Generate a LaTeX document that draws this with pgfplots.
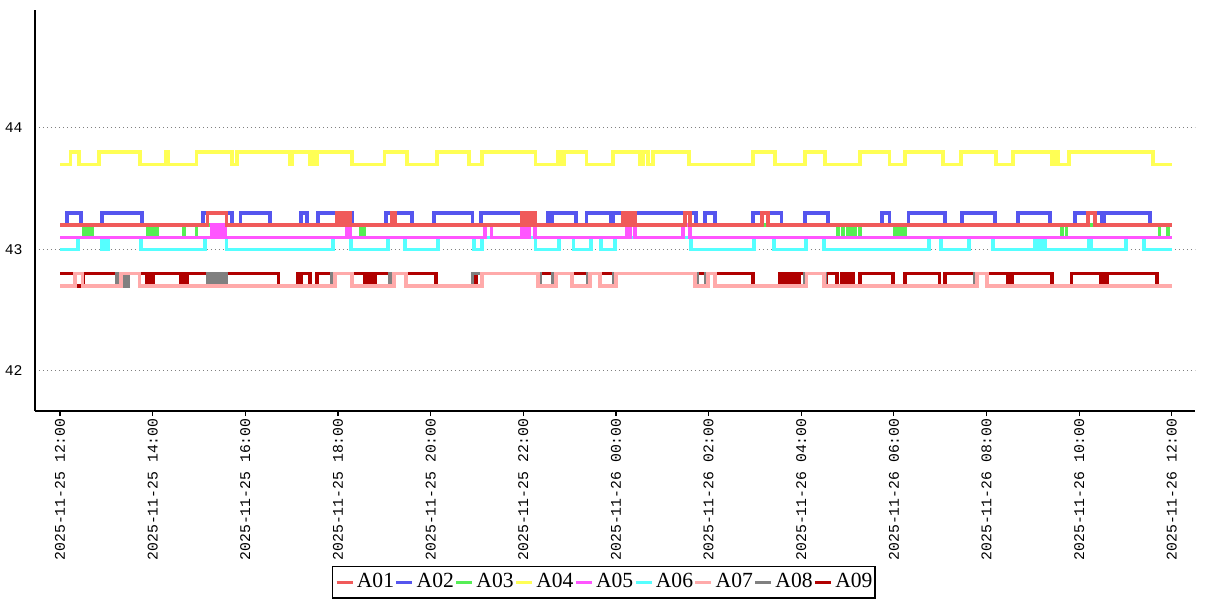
\documentclass[border=0pt]{standalone}
\usepackage{fontspec}
\setmainfont{Liberation Serif}
\newfontfamily\monofont{Liberation Mono}
\usepackage{pgfplots}
\pgfplotsset{compat=1.18}
\definecolor{cA01}{HTML}{F05A5A}
\definecolor{cA02}{HTML}{5555EE}
\definecolor{cA03}{HTML}{55EE55}
\definecolor{cA04}{HTML}{FFFF55}
\definecolor{cA05}{HTML}{FF55FF}
\definecolor{cA06}{HTML}{55FFFF}
\definecolor{cA07}{HTML}{FFAAAA}
\definecolor{cA08}{HTML}{808080}
\definecolor{cA09}{HTML}{B00000}
\begin{document}
\begin{tikzpicture}
\begin{axis}[
  scale only axis, width=580pt, height=200.5pt,
  xmin=-0.54, xmax=24.5, ymin=41.67, ymax=44.97,
  axis lines*=left,
  axis line style={line width=0.9pt, black},
  xtick={0,2,...,24},
  xticklabels={2025-11-25 12:00,2025-11-25 14:00,2025-11-25 16:00,2025-11-25 18:00,2025-11-25 20:00,2025-11-25 22:00,2025-11-26 00:00,2025-11-26 02:00,2025-11-26 04:00,2025-11-26 06:00,2025-11-26 08:00,2025-11-26 10:00,2025-11-26 12:00},
  x tick label style={rotate=90, anchor=east, font=\monofont\fontsize{7.4}{8}\selectfont, inner sep=1pt},
  ytick={42,43,44}, yticklabels={42,43,44},
  y tick label style={font=\monofont\fontsize{7.4}{8}\selectfont, inner sep=1pt, xshift=-2.5pt},
  tick align=outside, major tick length=2.5pt,
  xtick style={black, line width=0.6pt},
  ytick style={draw=none},
  ymajorgrids,
  major grid style={gray, line width=0.5pt, dash pattern=on 0.6pt off 1.4pt},
  every axis plot/.append style={const plot, line width=1.7pt},
  legend columns=9,
  legend image code/.code={\draw[#1] (0pt,0pt) -- (8pt,0pt);},
  legend style={at={(0.4905,-0.3865)}, anchor=north, draw=black, line width=0.6pt,
    font=\fontsize{10.8}{12}\selectfont, inner xsep=1pt, inner ysep=2pt,
    nodes={inner xsep=0.3pt, inner ysep=1.5pt},
    /tikz/every even column/.append style={column sep=0pt},
    /tikz/every odd column/.append style={column sep=1pt}},
]
\coordinate (O) at (rel axis cs:0,0);
% A09
\addplot[cA09, forget plot] coordinates {(0,42.8) (0.32,42.7) (0.50,42.8) (1.88,42.7) (1.92,42.8) (1.96,42.7) (2.01,42.8) (2.61,42.7) (2.66,42.8) (2.70,42.7) (2.74,42.8) (3.19,42.7) (3.60,42.8) (4.71,42.7) (5.12,42.8) (5.16,42.7) (5.20,42.8) (5.40,42.7) (5.55,42.8) (6.58,42.7) (6.63,42.8) (6.67,42.7) (6.71,42.8) (6.76,42.7) (6.80,42.8) (8.12,42.7) (8.98,42.8) (14.96,42.7) (15.54,42.8) (15.63,42.7) (15.67,42.8) (15.76,42.7) (15.80,42.8) (15.89,42.7) (15.95,42.8) (16.51,42.7) (16.55,42.8) (16.77,42.7) (16.88,42.8) (16.94,42.7) (16.99,42.8) (17.03,42.7) (17.07,42.8) (17.12,42.7) (17.27,42.8) (17.98,42.7) (18.24,42.8) (18.99,42.7) (19.10,42.8) (20.46,42.7) (20.55,42.8) (21.41,42.7) (21.84,42.8) (22.47,42.7) (22.51,42.8) (22.55,42.7) (22.60,42.8) (23.68,42.7) (24,42.7)};
% A08
\addplot[cA08, forget plot] coordinates {(0,42.7) (0.32,42.8) (0.48,42.7) (1.23,42.8) (1.27,42.7) (1.32,42.8) (1.36,42.7) (1.40,42.8) (1.45,42.7) (1.47,42.8) (1.71,42.7) (3.19,42.8) (3.26,42.7) (3.30,42.8) (3.37,42.7) (3.41,42.8) (3.48,42.7) (3.52,42.8) (3.60,42.7) (5.87,42.8) (6.30,42.7) (7.12,42.8) (7.47,42.7) (8.91,42.8) (10.36,42.7) (10.64,42.8) (11.05,42.7) (11.40,42.8) (11.66,42.7) (11.96,42.8) (13.75,42.7) (13.94,42.8) (14.14,42.7) (16.08,42.8) (16.53,42.7) (19.75,42.8) (20.01,42.7) (24,42.7)};
% A07
\addplot[cA07, forget plot] coordinates {(0,42.7) (0.32,42.8) (0.48,42.7) (1.32,42.8) (1.71,42.7) (5.94,42.8) (6.30,42.7) (7.21,42.8) (7.47,42.7) (9.11,42.8) (10.32,42.7) (10.71,42.8) (11.05,42.7) (11.44,42.8) (11.66,42.7) (12.00,42.8) (13.71,42.7) (13.99,42.8) (14.14,42.7) (16.12,42.8) (16.49,42.7) (19.79,42.8) (20.01,42.7) (24,42.7)};
% A06
\addplot[cA06, forget plot] coordinates {(0,43.0) (0.39,43.1) (0.89,43.0) (0.95,43.1) (0.99,43.0) (1.04,43.1) (1.75,43.0) (3.13,43.1) (3.60,43.0) (5.89,43.1) (6.28,43.0) (7.08,43.1) (7.45,43.0) (8.16,43.1) (8.94,43.0) (9.11,43.1) (10.27,43.0) (10.77,43.1) (11.09,43.0) (11.46,43.1) (11.68,43.0) (11.98,43.1) (13.62,43.0) (14.98,43.1) (15.41,43.0) (16.10,43.1) (16.49,43.0) (18.76,43.1) (19.02,43.0) (19.62,43.1) (20.14,43.0) (21.04,43.1) (21.09,43.0) (21.13,43.1) (21.17,43.0) (21.22,43.1) (21.26,43.0) (22.21,43.1) (22.27,43.0) (23.01,43.1) (23.40,43.0) (24,43.0)};
% A03
\addplot[cA03, forget plot] coordinates {(0,43.2) (0.52,43.1) (0.58,43.2) (0.63,43.1) (0.69,43.2) (1.90,43.1) (1.94,43.2) (1.99,43.1) (2.03,43.2) (2.05,43.1) (2.09,43.2) (2.68,43.1) (2.94,43.2) (6.48,43.1) (6.56,43.2) (16.79,43.1) (16.90,43.2) (17.01,43.1) (17.09,43.2) (17.16,43.1) (17.27,43.2) (18.02,43.1) (18.11,43.2) (18.15,43.1) (18.24,43.2) (21.63,43.1) (21.73,43.2) (23.74,43.1) (23.92,43.2) (24,43.2)};
% A05
\addplot[cA05, forget plot] coordinates {(0,43.1) (3.28,43.2) (3.32,43.1) (3.39,43.2) (3.43,43.1) (3.50,43.2) (3.56,43.1) (6.19,43.2) (6.26,43.1) (9.17,43.2) (9.32,43.1) (9.97,43.2) (10.06,43.1) (10.14,43.2) (10.25,43.1) (12.24,43.2) (12.28,43.1) (12.32,43.2) (12.41,43.1) (13.45,43.2) (13.60,43.1) (24,43.1)};
% A04
\addplot[cA04, forget plot] coordinates {(0,43.7) (0.22,43.8) (0.41,43.7) (0.84,43.8) (1.73,43.7) (2.29,43.8) (2.33,43.7) (2.94,43.8) (3.71,43.7) (3.82,43.8) (4.96,43.7) (5.01,43.8) (5.40,43.7) (5.44,43.8) (5.48,43.7) (5.55,43.8) (6.30,43.7) (7.01,43.8) (7.49,43.7) (8.14,43.8) (8.83,43.7) (9.11,43.8) (10.27,43.7) (10.75,43.8) (10.81,43.7) (10.88,43.8) (11.37,43.7) (11.94,43.8) (12.52,43.7) (12.60,43.8) (12.69,43.7) (12.80,43.8) (13.58,43.7) (14.96,43.8) (15.43,43.7) (16.08,43.8) (16.51,43.7) (17.27,43.8) (17.91,43.7) (18.24,43.8) (19.06,43.7) (19.45,43.8) (20.20,43.7) (20.57,43.8) (21.41,43.7) (21.48,43.8) (21.54,43.7) (21.78,43.8) (23.59,43.7) (24,43.7)};
% A02
\addplot[cA02, forget plot] coordinates {(0,43.2) (0.15,43.3) (0.45,43.2) (0.91,43.3) (1.77,43.2) (3.09,43.3) (3.71,43.2) (3.89,43.3) (4.53,43.2) (5.20,43.3) (5.33,43.2) (5.57,43.3) (6.32,43.2) (7.04,43.3) (7.60,43.2) (8.07,43.3) (8.91,43.2) (9.09,43.3) (10.25,43.2) (10.53,43.3) (10.58,43.2) (10.62,43.3) (11.14,43.2) (11.37,43.3) (11.89,43.2) (11.94,43.3) (13.73,43.2) (13.92,43.3) (14.14,43.2) (14.96,43.3) (15.58,43.2) (16.08,43.3) (16.58,43.2) (17.74,43.3) (17.91,43.2) (18.32,43.3) (19.10,43.2) (19.47,43.3) (20.18,43.2) (20.68,43.3) (21.37,43.2) (21.91,43.3) (22.49,43.2) (22.55,43.3) (23.53,43.2) (24,43.2)};
% A01
\addplot[cA01, forget plot] coordinates {(0,43.2) (3.19,43.3) (3.60,43.2) (5.98,43.3) (6.04,43.2) (6.09,43.3) (6.15,43.2) (6.19,43.3) (6.26,43.2) (7.17,43.3) (7.23,43.2) (9.97,43.3) (10.04,43.2) (10.08,43.3) (10.14,43.2) (10.19,43.3) (10.25,43.2) (12.15,43.3) (12.22,43.2) (12.26,43.3) (12.32,43.2) (12.37,43.3) (12.41,43.2) (13.49,43.3) (13.60,43.2) (15.15,43.3) (15.28,43.2) (22.19,43.3) (22.34,43.2) (24,43.2)};
\addlegendimage{cA01, line width=1.7pt}
\addlegendimage{cA02, line width=1.7pt}
\addlegendimage{cA03, line width=1.7pt}
\addlegendimage{cA04, line width=1.7pt}
\addlegendimage{cA05, line width=1.7pt}
\addlegendimage{cA06, line width=1.7pt}
\addlegendimage{cA07, line width=1.7pt}
\addlegendimage{cA08, line width=1.7pt}
\addlegendimage{cA09, line width=1.7pt}
\legend{A01,A02,A03,A04,A05,A06,A07,A08,A09}
\end{axis}
\pgfresetboundingbox
\path[use as bounding box] (O) ++(-17.5pt,-94.5pt) rectangle ++(603.5pt,300pt);
\end{tikzpicture}
\end{document}
